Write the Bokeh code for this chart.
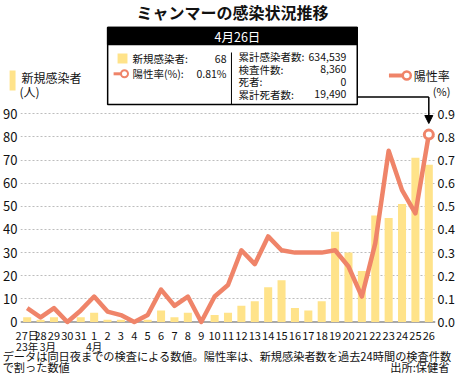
from bokeh.plotting import figure
from bokeh.models import (Range1d, LinearAxis, FixedTicker, Span,
                          BoxAnnotation, Arrow, NormalHead, PrintfTickFormatter)
from bokeh.core.properties import value
from bokeh.embed import file_html
from bokeh.resources import INLINE

# ---------------- data ----------------
dates = ["27", "28", "29", "30", "31", "1", "2", "3", "4", "5", "6", "7", "8", "9",
         "10", "11", "12", "13", "14", "15", "16", "17", "18", "19", "20", "21",
         "22", "23", "24", "25", "26"]
tick_labels = ["27日"] + dates[1:]
new_cases = [2, 1, 2, 0, 2, 4, 1, 1, 0, 1, 5, 2, 4, 0, 3, 4, 7, 9, 15, 18, 6, 5, 9,
             39, 30, 22, 46, 45, 51, 71, 68]
positivity = [0.06, 0.02, 0.06, 0.0, 0.05, 0.11, 0.045, 0.03, 0.0, 0.03, 0.14, 0.07,
              0.11, 0.0, 0.11, 0.16, 0.31, 0.25, 0.37, 0.31, 0.30, 0.30, 0.30, 0.31,
              0.24, 0.11, 0.34, 0.74, 0.57, 0.47, 0.81]
left_ticks = [0, 10, 20, 30, 40, 50, 60, 70, 80, 90]
right_ticks = [0.0, 0.1, 0.2, 0.3, 0.4, 0.5, 0.6, 0.7, 0.8, 0.9]
month_labels = ["23年", "3月", "4月"]
title_text = "ミャンマーの感染状況推移"
box_title = "4月26日"
box_left_labels = ["新規感染者:", "陽性率(%):"]
box_left_values = ["68", "0.81%"]
box_right_labels = ["累計感染者数:", "検査件数:", "死者:", "累計死者数:"]
box_right_values = ["634,539", "8,360", "0", "19,490"]
legend_bar = ["新規感染者", "(人)"]
legend_line = ["陽性率", "(%)"]
note_lines = ["データは同日夜までの検査による数値。陽性率は、新規感染者数を過去24時間の検査件数",
              "で割った数値"]
source_text = "出所:保健省"

BAR = "#FFE38A"
LINE = "#EF8469"
FONT = "Noto Sans CJK JP"
INK = "#111111"

# ---------------- figure ----------------
W, H = 457, 376
FL, FR, FT, FB = 19, 438, 25, 325
X0, X1 = -0.5, 30.5
UNIT = (321.5 - 113.3) / 90.0          # px per left-axis unit
Y0 = -(FB - 321.5) / UNIT
Y1 = (321.5 - FT) / UNIT

p = figure(width=W, height=H, x_range=Range1d(X0, X1), y_range=Range1d(Y0, Y1),
           output_backend="svg", toolbar_location=None,
           min_border_left=FL, min_border_right=W - FR,
           min_border_top=FT, min_border_bottom=H - FB)
p.outline_line_color = None
p.background_fill_color = "white"
p.border_fill_color = "white"


def xd(fx):
    return X0 + (fx - FL) / (FR - FL) * (X1 - X0)


def yd(fy):
    return Y0 + (FB - fy) / (FB - FT) * (Y1 - Y0)


xs = list(range(len(dates)))

# left axis
ya = p.yaxis[0]
ya.ticker = FixedTicker(ticks=left_ticks)
ya.axis_line_color = None
ya.major_tick_line_color = None
ya.minor_tick_line_color = None
ya.major_tick_out = 0
ya.major_tick_in = 0
ya.major_label_standoff = 3
ya.major_label_text_font = FONT
ya.major_label_text_font_size = "13px"
ya.major_label_text_color = INK

# right axis
p.extra_y_ranges = {"pct": Range1d(Y0 / 100, Y1 / 100)}
ra = LinearAxis(y_range_name="pct", ticker=FixedTicker(ticks=right_ticks),
                formatter=PrintfTickFormatter(format="%.1f"))
ra.axis_line_color = None
ra.major_tick_line_color = None
ra.minor_tick_line_color = None
ra.major_tick_out = 0
ra.major_tick_in = 0
ra.major_label_standoff = 2
ra.major_label_text_font = FONT
ra.major_label_text_font_size = "12.5px"
ra.major_label_text_color = INK
p.add_layout(ra, "right")

# x axis
xa = p.xaxis[0]
xa.ticker = FixedTicker(ticks=xs)
xa.major_label_overrides = {i: t for i, t in zip(xs, tick_labels)}
xa.axis_line_color = None
xa.major_tick_line_color = None
xa.minor_tick_line_color = None
xa.major_tick_out = 0
xa.major_tick_in = 0
xa.major_label_standoff = 1
xa.major_label_text_font = FONT
xa.major_label_text_font_size = "11px"
xa.major_label_text_color = INK

p.xgrid.grid_line_color = None
p.ygrid[0].ticker = FixedTicker(ticks=left_ticks[1:])
p.ygrid.grid_line_color = "#bdbdbd"
p.ygrid.grid_line_dash = "2 2"
p.ygrid.grid_line_width = 1

# bars
p.vbar(x=xs, top=new_cases, width=0.6, fill_color=BAR, line_color=None)

# baseline
p.add_layout(Span(location=0, dimension="width", line_color="#8c8c8c",
                  line_width=1.5, level="underlay"))

# positivity line
p.line(xs, positivity, y_range_name="pct", line_color=LINE, line_width=4.5,
       line_join="round")
p.scatter([xs[-1]], [positivity[-1]], y_range_name="pct", size=9,
          fill_color="white", line_color=LINE, line_width=3)


def txt(texts, fxs, fys, size, align="left", color=INK, bold=False):
    r = p.text(x=[xd(v) for v in fxs], y=[yd(v) for v in fys], text=texts,
               text_font=value(FONT), text_font_size=f"{size}px",
               text_align=align, text_baseline="middle", text_color=color,
               text_font_style="bold" if bold else "normal")
    r.level = "overlay"
    return r


def txt_data(texts, dxs, fys, size, align="center", color=INK):
    r = p.text(x=dxs, y=[yd(v) for v in fys], text=texts,
               text_font=value(FONT), text_font_size=f"{size}px",
               text_align=align, text_baseline="middle", text_color=color)
    r.level = "overlay"
    return r


def overlay(r):
    r.level = "overlay"
    return r


# title
txt([title_text], [233], [11.5], 16, align="center", bold=True)

# info box
p.add_layout(BoxAnnotation(left=xd(107), right=xd(359), top=yd(27), bottom=yd(104),
                           fill_color="white", fill_alpha=1, line_color="black",
                           line_width=1.5, line_alpha=1))
p.add_layout(BoxAnnotation(left=xd(107), right=xd(359), top=yd(27), bottom=yd(44),
                           fill_color="black", fill_alpha=1, line_color="black",
                           line_width=1.5, line_alpha=1))
txt([box_title], [238], [35.5], 12.5, align="center", color="white")
overlay(p.quad(left=[xd(117)], right=[xd(127)], top=[yd(53)], bottom=[yd(63)],
               fill_color=BAR, line_color=None))
overlay(p.line([xd(113), xd(121)], [yd(73.3), yd(73.3)], line_color=LINE,
               line_width=3))
overlay(p.scatter([xd(124)], [yd(73.3)], size=7, fill_color="white",
                  line_color=LINE, line_width=2))
txt(box_left_labels, [132, 132], [58.3, 73.3], 10.5)
txt(box_left_values, [227, 227], [58.3, 73.3], 10.5, align="right")
p.add_layout(Arrow(x_start=xd(232), y_start=yd(52), x_end=xd(232), y_end=yd(104),
                   end=None, line_color="black", line_width=1))
row_y = [56, 68.5, 81, 93.5]
txt(box_right_labels, [239] * 4, row_y, 10.5)
txt(box_right_values, [348] * 4, row_y, 10.5, align="right")

# arrow from box to latest point
p.add_layout(Arrow(x_start=xd(359), y_start=yd(96.5), x_end=xs[-1], y_end=yd(96.5),
                   end=None, line_color="black", line_width=1.5))
p.add_layout(Arrow(x_start=xs[-1], y_start=yd(96.5), x_end=xs[-1], y_end=yd(123),
                   end=NormalHead(size=8, fill_color="black", line_color="black"),
                   line_color="black", line_width=1.5))

# left legend
overlay(p.quad(left=[xd(8)], right=[xd(14)], top=[yd(70)], bottom=[yd(90)],
               fill_color=BAR, line_color=None))
txt([legend_bar[0]], [20], [76.7], 12)
txt([legend_bar[1]], [18], [90.5], 12)

# right legend
overlay(p.line([xd(391), xd(406)], [yd(75), yd(75)], line_color=LINE,
               line_width=4))
overlay(p.scatter([xd(409)], [yd(75)], size=8, fill_color="white",
                  line_color=LINE, line_width=2.5))
txt([legend_line[0]], [416], [75], 12)
txt([legend_line[1]], [453], [90], 11, align="right")

# month labels under the date axis
txt_data(month_labels, [xs[0], 1.55, dates.index("1")], [345.5, 345.5, 345.5], 10.5)

# notes
txt([note_lines[0]], [1], [355.5], 11.2)
txt([note_lines[1]], [1], [366.5], 11.2)
txt([source_text], [452], [366.5], 11.2, align="right")

open("out.html", "w").write(file_html(p, INLINE))
